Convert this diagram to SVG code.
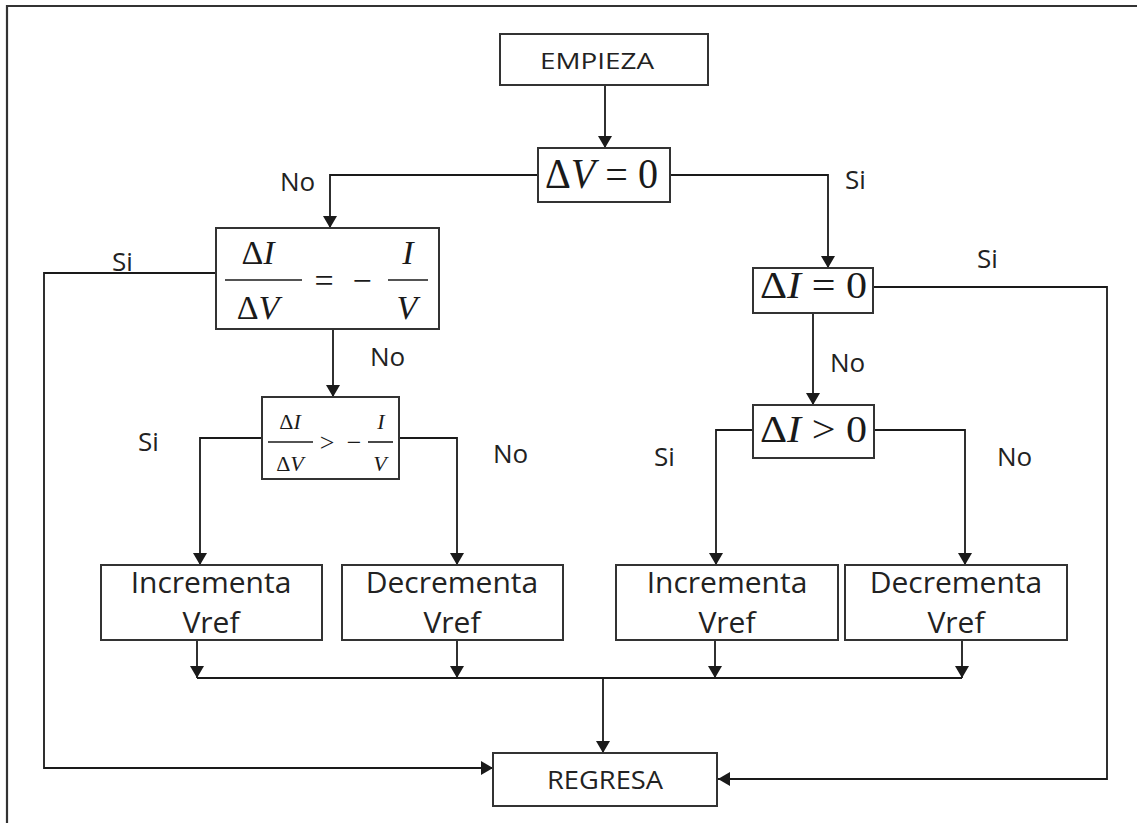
<svg xmlns="http://www.w3.org/2000/svg" width="1137" height="823" viewBox="0 0 1137 823">
<defs>
<marker id="ah" viewBox="0 0 12 14" refX="12" refY="7" markerWidth="12" markerHeight="14" markerUnits="userSpaceOnUse" orient="auto">
<path d="M0,0 L12,7 L0,14 Z" fill="#1a1a1a"/>
</marker>
<style>
.box{fill:#fff;stroke:#333;stroke-width:2}
.ln{fill:none;stroke:#1a1a1a;stroke-width:1.8}
.arr{fill:none;stroke:#1a1a1a;stroke-width:1.8;marker-end:url(#ah)}
.lbl{font-family:"Open Sans","Liberation Sans",sans-serif;font-size:26px;fill:#222}
.txt{font-family:"Open Sans","Liberation Sans",sans-serif;fill:#222}
.m{font-family:"Liberation Serif","Times New Roman",serif;fill:#1a1a1a}
.it{font-style:italic}
.fl{stroke:#1a1a1a;stroke-width:1.6}
</style>
</defs>
<rect width="1137" height="823" fill="#fff"/>
<path d="M7,823 V6 H1137" fill="none" stroke="#333" stroke-width="2.2"/>

<g id="connectors">
<path class="arr" d="M605,86 V148"/>
<path class="arr" d="M538,175 H330 V228"/>
<path class="arr" d="M670,175 H828 V268"/>
<path class="arr" d="M216,273 H44 V768 H493"/>
<path class="arr" d="M333,329 V397"/>
<path class="arr" d="M262,438 H200 V565"/>
<path class="arr" d="M399,438 H457 V565"/>
<path class="arr" d="M873,287 H1107 V779 H718"/>
<path class="arr" d="M813,313 V405"/>
<path class="arr" d="M753,430 H716 V565"/>
<path class="arr" d="M874,430 H965 V565"/>
<path class="arr" d="M197,640 V678"/>
<path class="arr" d="M457,640 V678"/>
<path class="arr" d="M715,640 V678"/>
<path class="arr" d="M962,640 V678"/>
<path class="ln" d="M197,678 H962"/>
<path class="arr" d="M603,678 V753"/>
<text class="lbl" x="280" y="191">No</text>
<text class="lbl" x="845" y="189">Si</text>
<text class="lbl" x="112" y="271">Si</text>
<text class="lbl" x="370" y="366">No</text>
<text class="lbl" x="138" y="451">Si</text>
<text class="lbl" x="493" y="463">No</text>
<text class="lbl" x="977" y="268">Si</text>
<text class="lbl" x="830" y="372">No</text>
<text class="lbl" x="654" y="466">Si</text>
<text class="lbl" x="997" y="466">No</text>
</g>

<g id="empieza">
<rect class="box" x="500" y="34" width="208" height="51"/>
<text class="txt" x="597" y="69" font-size="22" text-anchor="middle" textLength="114" lengthAdjust="spacingAndGlyphs">EMPIEZA</text>
</g>

<g id="dv0">
<rect class="box" x="538" y="148" width="132" height="54"/>
<text class="m" x="545" y="188" font-size="42" textLength="113" lengthAdjust="spacingAndGlyphs">Δ<tspan class="it">V</tspan> = 0</text>
</g>

<g id="eq1">
<rect class="box" x="216" y="228" width="223" height="101"/>
<text class="m" x="258" y="264" font-size="34" text-anchor="middle">Δ<tspan class="it">I</tspan></text>
<line class="fl" x1="225" y1="280" x2="302" y2="280"/>
<text class="m" x="258" y="319" font-size="34" text-anchor="middle">Δ<tspan class="it">V</tspan></text>
<text class="m" x="324" y="292" font-size="34" text-anchor="middle">=</text>
<text class="m" x="362" y="292" font-size="34" text-anchor="middle">−</text>
<text class="m it" x="408" y="264" font-size="34" text-anchor="middle">I</text>
<line class="fl" x1="388" y1="280" x2="428" y2="280"/>
<text class="m it" x="407" y="319" font-size="34" text-anchor="middle">V</text>
</g>

<g id="eq2">
<rect class="box" x="262" y="397" width="137" height="82"/>
<text class="m" x="290" y="429" font-size="22" text-anchor="middle">Δ<tspan class="it">I</tspan></text>
<line class="fl" x1="268" y1="442" x2="313" y2="442"/>
<text class="m" x="290" y="471" font-size="22" text-anchor="middle">Δ<tspan class="it">V</tspan></text>
<text class="m" x="327" y="451" font-size="26" text-anchor="middle">&gt;</text>
<text class="m" x="354" y="451" font-size="26" text-anchor="middle">−</text>
<text class="m it" x="381" y="429" font-size="22" text-anchor="middle">I</text>
<line class="fl" x1="368" y1="442" x2="393" y2="442"/>
<text class="m it" x="380" y="471" font-size="22" text-anchor="middle">V</text>
</g>

<g id="di0">
<rect class="box" x="753" y="268" width="120" height="45"/>
<text class="m" x="760" y="298" font-size="38" textLength="107" lengthAdjust="spacingAndGlyphs">Δ<tspan class="it">I</tspan> = 0</text>
</g>

<g id="digt0">
<rect class="box" x="753" y="405" width="121" height="53"/>
<text class="m" x="760" y="442" font-size="38" textLength="107" lengthAdjust="spacingAndGlyphs">Δ<tspan class="it">I</tspan> &gt; 0</text>
</g>

<g id="inc1">
<rect class="box" x="101" y="565" width="221" height="75"/>
<text class="txt" x="211" y="593" font-size="30" text-anchor="middle">Incrementa</text>
<text class="txt" x="211" y="633" font-size="30" text-anchor="middle">Vref</text>
</g>

<g id="dec1">
<rect class="box" x="342" y="565" width="221" height="75"/>
<text class="txt" x="452" y="593" font-size="30" text-anchor="middle">Decrementa</text>
<text class="txt" x="452" y="633" font-size="30" text-anchor="middle">Vref</text>
</g>

<g id="inc2">
<rect class="box" x="616" y="565" width="222" height="75"/>
<text class="txt" x="727" y="593" font-size="30" text-anchor="middle">Incrementa</text>
<text class="txt" x="727" y="633" font-size="30" text-anchor="middle">Vref</text>
</g>

<g id="dec2">
<rect class="box" x="845" y="565" width="222" height="75"/>
<text class="txt" x="956" y="593" font-size="30" text-anchor="middle">Decrementa</text>
<text class="txt" x="956" y="633" font-size="30" text-anchor="middle">Vref</text>
</g>

<g id="regresa">
<rect class="box" x="493" y="753" width="224" height="53"/>
<text class="txt" x="605" y="789" font-size="26" text-anchor="middle" textLength="116" lengthAdjust="spacingAndGlyphs">REGRESA</text>
</g>
</svg>
